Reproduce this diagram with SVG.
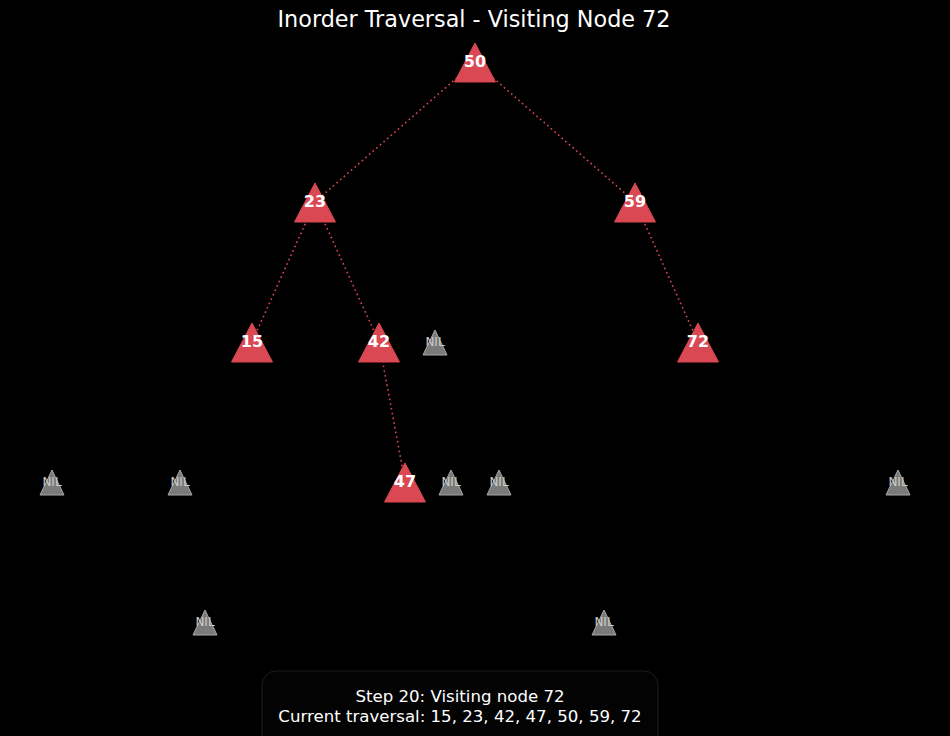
<svg xmlns="http://www.w3.org/2000/svg" xmlns:xlink="http://www.w3.org/1999/xlink" width="950" height="736" viewBox="0 0 950 736">
<style>
.red{fill:#d94853;stroke:#d94853;stroke-width:1}
.nil{fill:#7a7a7a;stroke:#a8a8a8;stroke-width:1}
.lbl{font-family:"DejaVu Sans",sans-serif;font-weight:bold;font-size:16px;fill:#ffffff;text-anchor:middle;dominant-baseline:central}
.nlbl{font-family:"DejaVu Sans",sans-serif;font-size:12px;fill:#cccccc;text-anchor:middle;dominant-baseline:central}
.edge{stroke:#d94853;stroke-width:1.6;stroke-dasharray:1.6 3.2;fill:none}
.title{font-family:"DejaVu Sans",sans-serif;font-size:22.3px;fill:#ffffff;text-anchor:middle}
.info{font-family:"DejaVu Sans",sans-serif;font-size:16.6px;fill:#ffffff;text-anchor:middle}
</style>
<defs>
<polygon id="tri" points="0,-19 20.5,20 -20.5,20"/>
<polygon id="ntri" points="0,-12 12,13 -12,13"/>
</defs>
<rect width="950" height="736" fill="#000000"/>
<text class="title" x="474" y="27">Inorder Traversal - Visiting Node 72</text>
<g id="edges">
<line class="edge" x1="475" y1="62" x2="315" y2="202"/>
<line class="edge" x1="475" y1="62" x2="635" y2="202"/>
<line class="edge" x1="315" y1="202" x2="252" y2="342"/>
<line class="edge" x1="315" y1="202" x2="379" y2="342"/>
<line class="edge" x1="635" y1="202" x2="698" y2="342"/>
<line class="edge" x1="379" y1="342" x2="405" y2="482"/>
</g>
<g id="n50"><use xlink:href="#tri" class="red" x="475" y="62"/><text class="lbl" x="475" y="61">50</text></g>
<g id="n23"><use xlink:href="#tri" class="red" x="315" y="202"/><text class="lbl" x="315" y="201">23</text></g>
<g id="n59"><use xlink:href="#tri" class="red" x="635" y="202"/><text class="lbl" x="635" y="201">59</text></g>
<g id="n15"><use xlink:href="#tri" class="red" x="252" y="342"/><text class="lbl" x="252" y="341">15</text></g>
<g id="n42"><use xlink:href="#tri" class="red" x="379" y="342"/><text class="lbl" x="379" y="341">42</text></g>
<g id="n72"><use xlink:href="#tri" class="red" x="698" y="342"/><text class="lbl" x="698" y="341">72</text></g>
<g id="n47"><use xlink:href="#tri" class="red" x="405" y="482"/><text class="lbl" x="405" y="481">47</text></g>
<g id="nil1"><use xlink:href="#ntri" class="nil" x="435" y="342"/><text class="nlbl" x="435" y="342">NIL</text></g>
<g id="nil2"><use xlink:href="#ntri" class="nil" x="52" y="482"/><text class="nlbl" x="52" y="482">NIL</text></g>
<g id="nil3"><use xlink:href="#ntri" class="nil" x="180" y="482"/><text class="nlbl" x="180" y="482">NIL</text></g>
<g id="nil4"><use xlink:href="#ntri" class="nil" x="451" y="482"/><text class="nlbl" x="451" y="482">NIL</text></g>
<g id="nil5"><use xlink:href="#ntri" class="nil" x="499" y="482"/><text class="nlbl" x="499" y="482">NIL</text></g>
<g id="nil6"><use xlink:href="#ntri" class="nil" x="898" y="482"/><text class="nlbl" x="898" y="482">NIL</text></g>
<g id="nil7"><use xlink:href="#ntri" class="nil" x="205" y="622"/><text class="nlbl" x="205" y="622">NIL</text></g>
<g id="nil8"><use xlink:href="#ntri" class="nil" x="604" y="622"/><text class="nlbl" x="604" y="622">NIL</text></g>
<g id="info">
<rect x="262" y="671" width="396" height="90" rx="14" fill="#030303" stroke="#1e1e1e" stroke-width="1"/>
<text class="info" x="460" y="702">Step 20: Visiting node 72</text>
<text class="info" x="460" y="722">Current traversal: 15, 23, 42, 47, 50, 59, 72</text>
</g>
</svg>
